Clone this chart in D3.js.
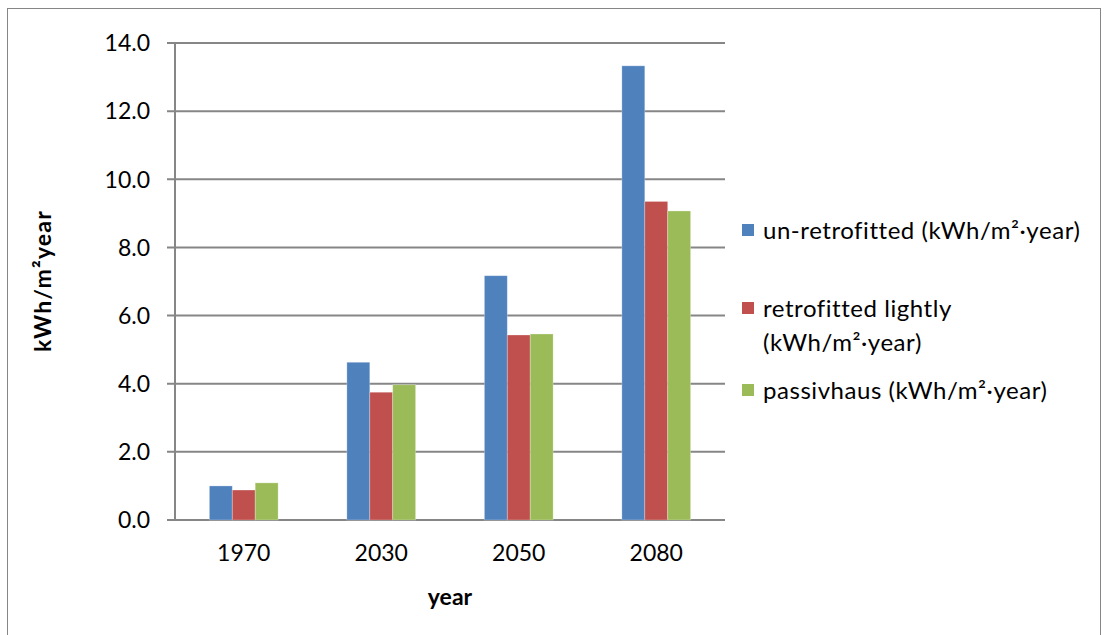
<!DOCTYPE html>
<html><head><meta charset="utf-8">
<script src="https://cdn.jsdelivr.net/npm/d3@7"></script>
<style>body{margin:0;background:#fff}svg{display:block}text{font-family:Lato,"Open Sans",sans-serif;fill:#000}</style>
</head><body><svg id="c" width="1107" height="635"></svg>
<script>
const categories = ["1970","2030","2050","2080"];
const seriesNames = ["un-retrofitted (kWh/m²·year)","retrofitted lightly (kWh/m²·year)","passivhaus (kWh/m²·year)"];
const unRetrofitted = [1.00, 4.63, 7.17, 13.33];
const retrofittedLightly = [0.88, 3.75, 5.43, 9.35];
const passivhaus = [1.09, 3.97, 5.46, 9.07];
const colors = ["#4F81BD","#C0504D","#9BBB59"];
const yTicks = [0,2,4,6,8,10,12,14];
const series = [unRetrofitted, retrofittedLightly, passivhaus];

const FS = 23;
const svg = d3.select("#c");
svg.append("rect").attr("x",7.5).attr("y",8.5).attr("width",1093).attr("height",640)
  .attr("fill","#fff").attr("stroke","#868686").attr("stroke-width",1);

const L=175, R=725, T=43, B=520;
const x = d3.scaleBand().domain(categories).range([L,R]).paddingInner(0).paddingOuter(0);
const y = d3.scaleLinear().domain([0,14]).range([B,T]);
const groupW = x.bandwidth()/2;
const xs = d3.scaleBand().domain(d3.range(3)).range([0,groupW]);

// gridlines
svg.append("g").selectAll("line").data(yTicks).join("line")
  .attr("x1",L-8).attr("x2",R).attr("y1",d=>y(d)).attr("y2",d=>y(d))
  .attr("stroke","#868686").attr("stroke-width",2);
svg.append("line").attr("x1",L).attr("x2",L).attr("y1",T).attr("y2",B)
  .attr("stroke","#868686").attr("stroke-width",2);

// y tick labels
svg.append("g").selectAll("text").data(yTicks).join("text")
  .attr("x",150).attr("y",d=>y(d)).attr("dy","0.36em").attr("text-anchor","end")
  .attr("font-size",FS).text(d=>d.toFixed(1));

// bars
series.forEach((vals,si)=>{
  svg.append("g").selectAll("rect").data(vals).join("rect")
    .attr("x",(d,i)=>x(categories[i])+x.bandwidth()/4+xs(si))
    .attr("width",xs.bandwidth())
    .attr("y",d=>y(d)).attr("height",d=>B-y(d))
    .attr("fill",colors[si]).attr("stroke","rgba(255,255,255,0.35)").attr("stroke-width",0.8);
});

// x labels
svg.append("g").selectAll("text").data(categories).join("text")
  .attr("x",d=>x(d)+x.bandwidth()/2).attr("y",553).attr("dy","0.36em").attr("text-anchor","middle")
  .attr("font-size",FS).text(d=>d);

svg.append("text").attr("x",450).attr("y",597).attr("dy","0.36em").attr("text-anchor","middle")
  .attr("font-size",FS).attr("font-weight","bold").text("year");
svg.append("text").attr("transform","translate(43,281) rotate(-90)").attr("dy","0.36em").attr("text-anchor","middle")
  .attr("font-size",FS).attr("font-weight","bold").attr("letter-spacing",1.2).text("kWh/m²year");

// legend
const leg = [
  {lines:[seriesNames[0]], y:230},
  {lines:["retrofitted lightly","(kWh/m²·year)"], y:308},
  {lines:[seriesNames[2]], y:390}
];
leg.forEach((l,i)=>{
  svg.append("rect").attr("x",742).attr("y",l.y-6).attr("width",12).attr("height",12).attr("fill",colors[i]);
  l.lines.forEach((t,j)=>{
    svg.append("text").attr("x",763).attr("y",l.y+j*34).attr("dy","0.36em")
      .attr("font-size",24).attr("letter-spacing",0.55).text(t);
  });
});
</script></body></html>
